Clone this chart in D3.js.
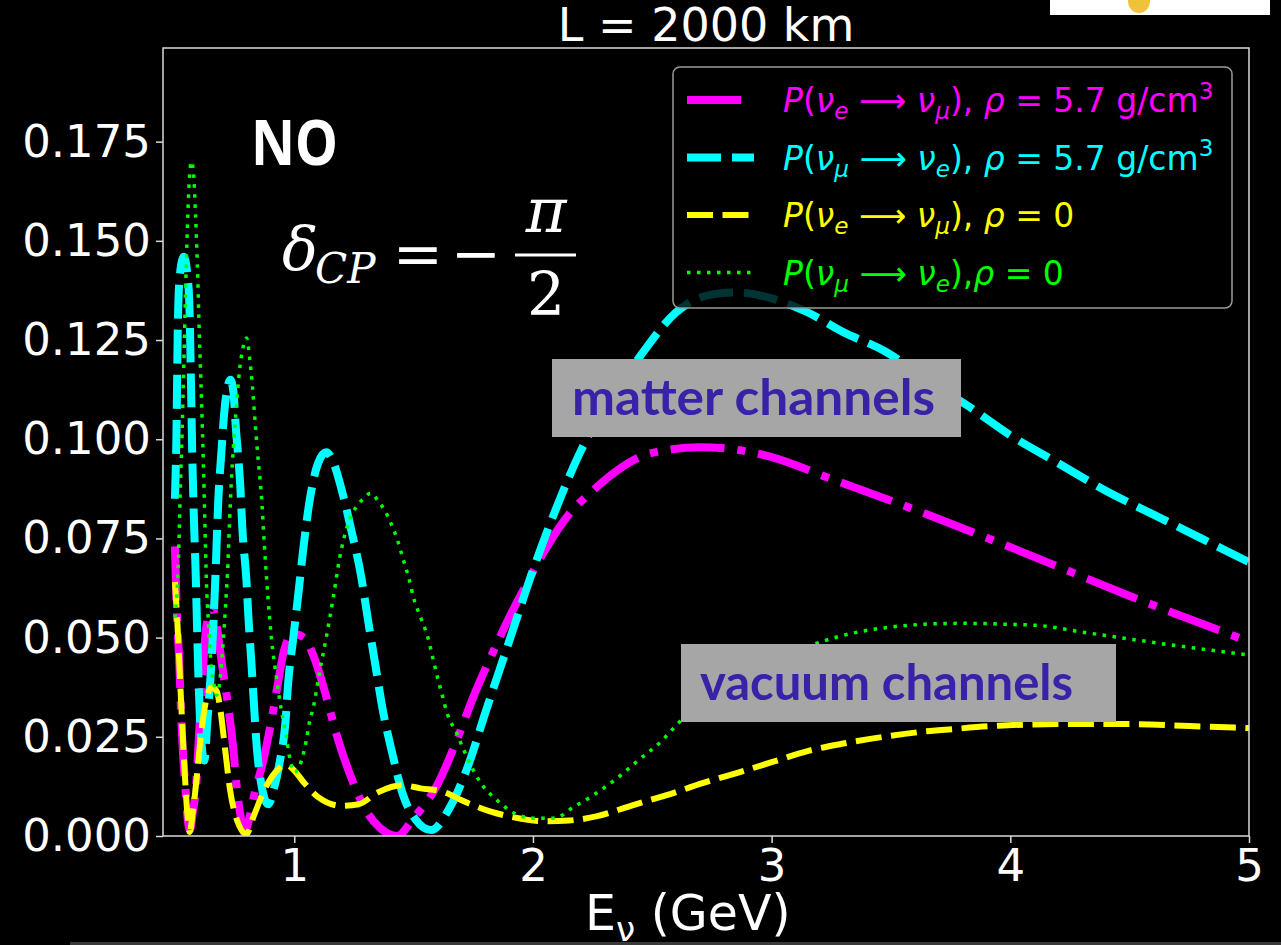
<!DOCTYPE html>
<html>
<head>
<meta charset="utf-8">
<script src="https://cdn.jsdelivr.net/npm/d3@7"></script>
<style>
body { margin: 0; background: #000; }
svg { display: block; }
text { white-space: pre; }
</style>
</head>
<body>
<script>
// values: [E (GeV), probability]
var magentaPts = [[0.5,0.073],[0.507,0.058],[0.518,0.044],[0.527,0.029],[0.544,0.012],[0.556,0.003],[0.563,0.0015],
  [0.575,0.006],[0.59,0.0136],[0.598,0.0224],[0.615,0.04],[0.632,0.053],[0.655,0.0575],[0.67,0.055],[0.682,0.05],
  [0.7,0.042],[0.72,0.034],[0.745,0.0217],[0.76,0.0116],[0.778,0.004],[0.79,0.0008],[0.81,0.004],[0.83,0.0098],
  [0.87,0.019],[0.904,0.029],[0.933,0.039],[0.958,0.047],[0.996,0.051],[1.04,0.05],[1.08,0.0455],[1.13,0.036],
  [1.18,0.025],[1.24,0.0145],[1.3,0.0065],[1.36,0.002],[1.43,0.0],[1.5,0.0045],[1.6,0.013],[1.68,0.024],[1.75,0.035],
  [1.83,0.046],[1.9,0.055],[1.96,0.062],[2.05,0.072],[2.15,0.081],[2.25,0.087],[2.35,0.092],[2.49,0.0964],[2.7,0.098],
  [2.89,0.097],[3.0,0.0955],[3.25,0.09],[3.5,0.0845],[4.0,0.0728],[4.5,0.0605],[5.0,0.049]];

var cyanPts = [[0.5,0.085],[0.506,0.1],[0.512,0.128],[0.52,0.141],[0.537,0.146],[0.553,0.141],[0.561,0.133],[0.567,0.115],
  [0.573,0.095],[0.58,0.079],[0.587,0.066],[0.593,0.052],[0.599,0.039],[0.607,0.027],[0.623,0.019],[0.636,0.029],
  [0.649,0.04],[0.66,0.052],[0.67,0.066],[0.682,0.085],[0.695,0.097],[0.707,0.107],[0.72,0.113],[0.732,0.115],
  [0.745,0.112],[0.755,0.103],[0.766,0.095],[0.774,0.088],[0.782,0.078],[0.8,0.064],[0.808,0.055],[0.82,0.044],
  [0.845,0.021],[0.865,0.012],[0.891,0.008],[0.915,0.012],[0.94,0.019],[0.962,0.028],[0.975,0.039],[0.996,0.05],
  [1.017,0.061],[1.038,0.0725],[1.063,0.084],[1.1,0.094],[1.134,0.0967],[1.165,0.094],[1.197,0.0876],[1.24,0.0768],
  [1.28,0.0655],[1.31,0.054],[1.34,0.043],[1.37,0.032],[1.41,0.021],[1.456,0.0103],[1.51,0.004],[1.573,0.0015],
  [1.65,0.007],[1.73,0.018],[1.8,0.031],[1.9,0.049],[2.0,0.067],[2.1,0.083],[2.2,0.097],[2.3,0.108],[2.45,0.121],
  [2.6,0.132],[2.75,0.1365],[2.85,0.137],[3.0,0.1355],[3.15,0.132],[3.3,0.127],[3.48,0.122],[3.65,0.115],[3.82,0.1085],
  [4.0,0.101],[4.2,0.094],[4.4,0.087],[4.6,0.081],[4.8,0.075],[5.0,0.069]];

var yellowPts = [[0.5,0.064],[0.51,0.054],[0.525,0.035],[0.54,0.017],[0.553,0.005],[0.562,0.001],[0.575,0.006],
  [0.59,0.014],[0.61,0.026],[0.63,0.034],[0.655,0.0375],[0.675,0.0365],[0.69,0.032],[0.71,0.022],[0.73,0.012],
  [0.76,0.004],[0.8,0.0005],[0.83,0.005],[0.87,0.011],[0.92,0.016],[0.967,0.018],[1.0,0.0165],[1.04,0.0135],
  [1.1,0.0098],[1.2,0.0076],[1.27,0.008],[1.35,0.011],[1.45,0.0128],[1.53,0.012],[1.62,0.0112],[1.72,0.0085],
  [1.82,0.0062],[1.92,0.0047],[2.05,0.0037],[2.15,0.0039],[2.27,0.005],[2.42,0.0078],[2.56,0.0103],[2.71,0.0133],
  [2.86,0.016],[3.0,0.0186],[3.15,0.0214],[3.3,0.0233],[3.47,0.025],[3.62,0.0262],[3.77,0.027],[3.95,0.0278],
  [4.2,0.0282],[4.5,0.0282],[4.75,0.0277],[5.0,0.0272]];

var greenPts = [[0.5,0.055],[0.507,0.06],[0.515,0.07],[0.522,0.086],[0.53,0.102],[0.537,0.118],[0.544,0.136],
  [0.552,0.153],[0.56,0.165],[0.569,0.17],[0.578,0.167],[0.586,0.157],[0.594,0.144],[0.602,0.127],[0.611,0.1105],
  [0.619,0.094],[0.625,0.08],[0.632,0.064],[0.64,0.054],[0.653,0.042],[0.666,0.0375],[0.674,0.0355],[0.686,0.038],
  [0.697,0.045],[0.707,0.053],[0.716,0.062],[0.72,0.066],[0.728,0.078],[0.736,0.089],[0.745,0.098],[0.757,0.108],
  [0.77,0.117],[0.785,0.123],[0.8,0.1255],[0.812,0.121],[0.825,0.113],[0.835,0.105],[0.847,0.096],[0.862,0.086],
  [0.875,0.073],[0.89,0.06],[0.904,0.05],[0.925,0.04],[0.945,0.032],[0.967,0.025],[0.98,0.02],[1.0,0.016],
  [1.03,0.019],[1.05,0.024],[1.063,0.0285],[1.08,0.0325],[1.105,0.041],[1.134,0.05],[1.163,0.06],[1.19,0.07],
  [1.23,0.0795],[1.26,0.083],[1.29,0.085],[1.32,0.0864],[1.356,0.084],[1.38,0.082],[1.4,0.0795],[1.43,0.075],
  [1.46,0.069],[1.48,0.065],[1.5,0.06],[1.53,0.055],[1.56,0.05],[1.58,0.045],[1.6,0.04],[1.62,0.0355],[1.64,0.031],
  [1.68,0.026],[1.71,0.0217],[1.75,0.0166],[1.78,0.0135],[1.85,0.009],[1.92,0.0058],[2.0,0.0045],[2.09,0.0045],
  [2.17,0.0073],[2.24,0.0098],[2.34,0.014],[2.44,0.019],[2.54,0.024],[2.61,0.0285],[2.8,0.0375],[3.0,0.044],
  [3.19,0.0486],[3.33,0.051],[3.49,0.0526],[3.65,0.0534],[3.81,0.0536],[3.97,0.0534],[4.13,0.053],[4.29,0.0515],
  [4.46,0.05],[4.62,0.0486],[4.78,0.0473],[5.0,0.0456]];

var xTicks = [1, 2, 3, 4, 5];
var yTicks = [0, 0.025, 0.05, 0.075, 0.1, 0.125, 0.15, 0.175];

// legend labels as [text, kind] pieces (kind: i = italic, isub = italic subscript, sup = superscript)
var legendLabels = [
  [["P","i"],["(",""],["ν","i"],["e","isub"],[" ⟶ ",""],["ν","i"],["μ","isub"],["), ",""],["ρ","i"],[" = 5.7 g/cm",""],["3","sup"]],
  [["P","i"],["(",""],["ν","i"],["μ","isub"],[" ⟶ ",""],["ν","i"],["e","isub"],["), ",""],["ρ","i"],[" = 5.7 g/cm",""],["3","sup"]],
  [["P","i"],["(",""],["ν","i"],["e","isub"],[" ⟶ ",""],["ν","i"],["μ","isub"],["), ",""],["ρ","i"],[" = 0",""]],
  [["P","i"],["(",""],["ν","i"],["μ","isub"],[" ⟶ ",""],["ν","i"],["e","isub"],["),",""],["ρ","i"],[" = 0",""]]
];

var W = 1281, H = 945;
var plotL = 163, plotR = 1249, plotT = 48, plotB = 836;//plot box in pixels

var x = d3.scaleLinear().domain([0.45, 5]).range([plotL, plotR]);
var y = d3.scaleLinear().domain([0, 0.1986]).range([plotB, plotT]);

var svg = d3.select("body").append("svg")
    .attr("width", W)
    .attr("height", H)
    .style("background", "#000");

var defs = svg.append("defs");
defs.append("clipPath").attr("id", "plotclip")
    .append("rect").attr("x", plotL).attr("y", plotT)
    .attr("width", plotR - plotL).attr("height", plotB - plotT);

// style for each series, same order as legend
var series = [
    {pts: magentaPts, color: "#ff00ff", width: 8, dash: "54 13 8 13"},
    {pts: cyanPts, color: "#00ffff", width: 8, dash: "34 11"},
    {pts: yellowPts, color: "#ffff00", width: 6, dash: "26 9.5"},
    {pts: greenPts, color: "#00ff00", width: 3.5, dash: "3.5 6.5"}
];

var line = d3.line()
    .x(function (d) { return x(d[0]); })
    .y(function (d) { return y(d[1]); })
    .curve(d3.curveMonotoneX);

var plot = svg.append("g").attr("clip-path", "url(#plotclip)");
series.forEach(function (s) {
    plot.append("path")
        .attr("d", line(s.pts))
        .attr("fill", "none")
        .attr("stroke", s.color)
        .attr("stroke-width", s.width)
        .attr("stroke-dasharray", s.dash);
});

// axes
var font = "DejaVu Sans, sans-serif";
var xAxis = d3.axisBottom(x).tickValues(xTicks).tickFormat(d3.format("d")).tickSize(7).tickPadding(6);
var yAxis = d3.axisLeft(y).tickValues(yTicks).tickFormat(d3.format(".3f")).tickSize(7).tickPadding(5);

var gx = svg.append("g").attr("transform", "translate(0," + plotB + ")").call(xAxis);
var gy = svg.append("g").attr("transform", "translate(" + plotL + ",0)").call(yAxis);
[gx, gy].forEach(function (g) {
    g.select(".domain").remove();
    g.selectAll("line").attr("stroke", "#d9d9d9").attr("stroke-width", 1.5);
    g.selectAll("text").attr("fill", "#fff").attr("font-family", font).attr("font-size", 45);
});

svg.append("rect")//plot frame
    .attr("x", plotL).attr("y", plotT)
    .attr("width", plotR - plotL).attr("height", plotB - plotT)
    .attr("fill", "none").attr("stroke", "#d9d9d9").attr("stroke-width", 1.5);

function richText(t, segs, size) {//tspans for sub/superscripts
    var shift = 0;
    segs.forEach(function (s) {
        var kind = s[1], target = 0, fs = size;
        if (kind == "sub" || kind == "isub") { target = 0.22 * size; fs = size * 0.7; }
        if (kind == "sup") { target = -0.4 * size; fs = size * 0.7; }
        t.append("tspan")
            .attr("dy", target - shift)
            .attr("font-size", fs)
            .attr("font-style", (kind == "i" || kind == "isub") ? "italic" : "normal")
            .text(s[0]);
        shift = target;
    });
}

// title and axis label
svg.append("text")
    .attr("x", (plotL + plotR) / 2).attr("y", 41)
    .attr("text-anchor", "middle")
    .attr("fill", "#fff").attr("font-family", font).attr("font-size", 46)
    .text("L = 2000 km");

var xl = svg.append("text")
    .attr("x", 585).attr("y", 930)
    .attr("fill", "#fff").attr("font-family", font).attr("font-size", 49);
richText(xl, [["E",""],["ν","sub"],[" (GeV)",""]], 49);

// annotations
svg.append("text")
    .attr("x", 251).attr("y", 165)
    .attr("fill", "#fff").attr("font-family", "Noto Sans, sans-serif")
    .attr("font-weight", "bold").attr("font-size", 62)
    .attr("textLength", 87).attr("lengthAdjust", "spacingAndGlyphs")
    .text("NO");

var serif = "DejaVu Serif, serif";
svg.append("text").attr("x", 282).attr("y", 270)
    .attr("fill", "#fff").attr("font-family", serif).attr("font-style", "italic").attr("font-size", 60)
    .text("δ");
svg.append("text").attr("x", 315).attr("y", 283)
    .attr("fill", "#fff").attr("font-family", serif).attr("font-style", "italic").attr("font-size", 42)
    .text("CP");
svg.append("text").attr("x", 418).attr("y", 274).attr("text-anchor", "middle")
    .attr("fill", "#fff").attr("font-family", serif).attr("font-size", 60)
    .text("=");
svg.append("text").attr("x", 476).attr("y", 274).attr("text-anchor", "middle")
    .attr("fill", "#fff").attr("font-family", serif).attr("font-size", 60)
    .text("−");
svg.append("text").attr("x", 546).attr("y", 232).attr("text-anchor", "middle")
    .attr("fill", "#fff").attr("font-family", serif).attr("font-style", "italic").attr("font-size", 62)
    .text("π");
svg.append("line").attr("x1", 515).attr("x2", 576).attr("y1", 255).attr("y2", 255)
    .attr("stroke", "#fff").attr("stroke-width", 3);
svg.append("text").attr("x", 546).attr("y", 315).attr("text-anchor", "middle")
    .attr("fill", "#fff").attr("font-family", serif).attr("font-size", 60)
    .text("2");

// grey label boxes
var boxes = [
    {x: 552, y: 359, w: 409, h: 78, tx: 572, ty: 415, tl: 363, label: "matter channels"},
    {x: 681, y: 644, w: 435, h: 78, tx: 700, ty: 700, tl: 373, label: "vacuum channels"}
];
boxes.forEach(function (b) {
    svg.append("rect").attr("x", b.x).attr("y", b.y).attr("width", b.w).attr("height", b.h)
        .attr("fill", "#a6a6a6");
    svg.append("text").attr("x", b.tx).attr("y", b.ty)
        .attr("fill", "#3a22a8").attr("font-family", "Lato, sans-serif").attr("font-weight", "bold")
        .attr("font-size", 50)
        .attr("textLength", b.tl).attr("lengthAdjust", "spacingAndGlyphs")
        .text(b.label);
});

// legend
var legend = svg.append("g");
legend.append("rect")
    .attr("x", 673).attr("y", 67).attr("width", 559).attr("height", 241).attr("rx", 7)
    .attr("fill", "#000").attr("fill-opacity", 0.8)
    .attr("stroke", "#9a9a9a").attr("stroke-width", 1.5);
series.forEach(function (s, i) {
    var cy = 100 + i * 57.5;
    legend.append("line")
        .attr("x1", 687).attr("x2", 754).attr("y1", cy).attr("y2", cy)
        .attr("stroke", s.color).attr("stroke-width", s.width)
        .attr("stroke-dasharray", s.dash);
    var t = legend.append("text")
        .attr("x", 783).attr("y", cy + 12)
        .attr("fill", s.color).attr("font-family", font).attr("font-size", 33);
    richText(t, legendLabels[i], 33);
});

// cut-off picture at top right and strip at bottom
defs.append("clipPath").attr("id", "logoclip")
    .append("rect").attr("x", 1050).attr("y", 0).attr("width", 220).attr("height", 15);
svg.append("rect").attr("x", 1050).attr("y", 0).attr("width", 220).attr("height", 15).attr("fill", "#fff");
svg.append("ellipse").attr("clip-path", "url(#logoclip)")
    .attr("cx", 1139).attr("cy", 1).attr("rx", 11).attr("ry", 12).attr("fill", "#f0c23a");
svg.append("rect").attr("x", 70).attr("y", 942).attr("width", 1211).attr("height", 3).attr("fill", "#3a3a3a");
</script>
</body>
</html>
